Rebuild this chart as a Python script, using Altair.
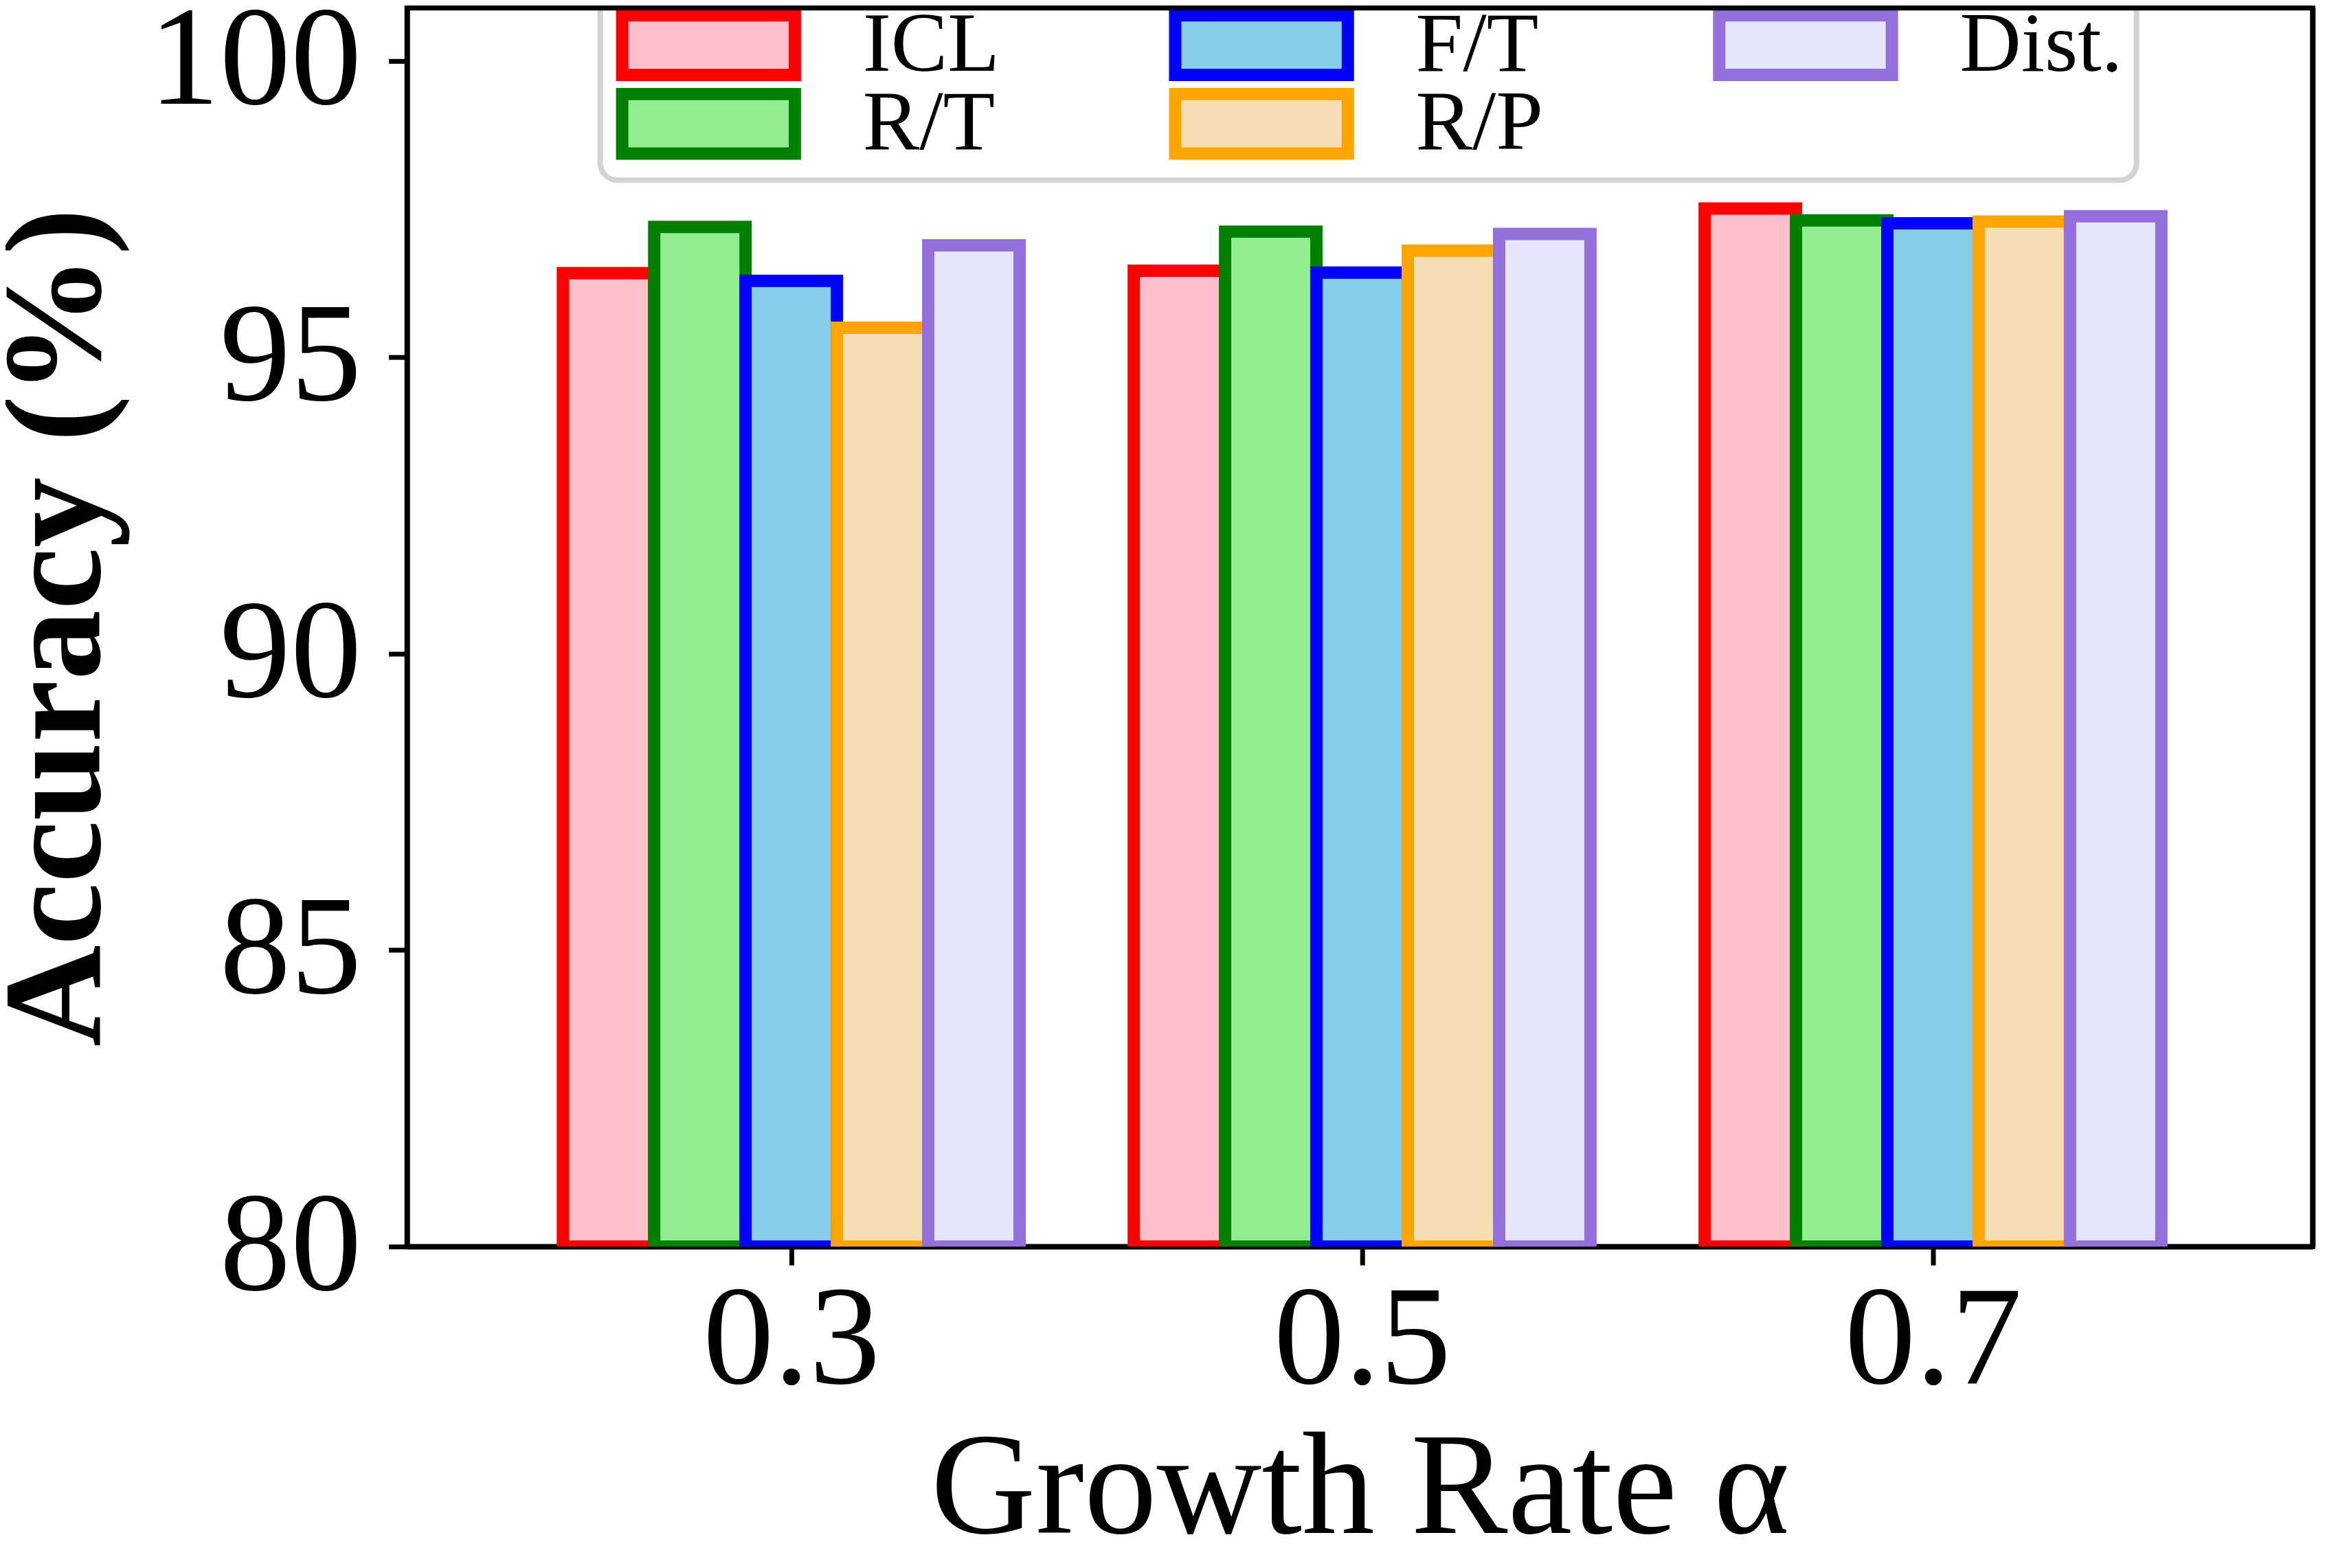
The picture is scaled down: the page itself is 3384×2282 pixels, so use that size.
import altair as alt
import pandas as pd

# ---- data ----
groups = ["0.3", "0.5", "0.7"]
methods = ["ICL", "R/T", "F/T", "R/P", "Dist."]
icl = [96.42, 96.46, 97.51]
rt = [97.20, 97.12, 97.31]
ft = [96.29, 96.43, 97.26]
rp = [95.50, 96.80, 97.29]
dist = [96.89, 97.08, 97.38]
fill_colors = ["#FFC0CB", "#90EE90", "#87CEEB", "#F5DEB3", "#E6E6FA"]
edge_colors = ["#FF0000", "#008000", "#0000FF", "#FFA500", "#9370DB"]
y_ticks = [80, 85, 90, 95, 100]

series = [icl, rt, ft, rp, dist]
rows = []
for si, (m, vals) in enumerate(zip(methods, series)):
    for gi, v in enumerate(vals):
        rows.append({"Method": m, "s": si, "g": gi, "Accuracy": v, "base": 80})
df = pd.DataFrame(rows)

BW = 0.16
FONT = "Liberation Serif"

label_expr = "[" + ",".join('"%s"' % g for g in groups) + "][datum.value]"

x_scale = alt.Scale(domain=[-0.673, 2.665], nice=False, zero=False)
y_scale = alt.Scale(domain=[80, 100.9], nice=False, zero=False)

legend = alt.Legend(
    title=None,
    orient="none",
    legendX=282,
    legendY=-18,
    columns=3,
    symbolType="M-2.52,-0.87L2.52,-0.87L2.52,0.87L-2.52,0.87Z",
    symbolSize=10000,
    symbolStrokeWidth=18,
    symbolOffset=76,
    symbolOpacity=1,
    clipHeight=105,
    labelFont=FONT,
    labelFontSize=124,
    labelColor="black",
    labelOffset=163,
    labelLimit=2000,
    columnPadding=244,
    rowPadding=-11,
    padding=20,
    strokeColor="#d3d3d3",
    fillColor="white",
    cornerRadius=25,
)

base = alt.Chart(df).transform_calculate(
    x0=f"datum.g + (datum.s - 2) * {BW} - {BW/2}",
    x1=f"datum.g + (datum.s - 2) * {BW} + {BW/2}",
)

bars = base.mark_bar(strokeWidth=18, clip=True, opacity=1).encode(
    x=alt.X(
        "x0:Q",
        scale=x_scale,
        axis=alt.Axis(
            values=[0, 1, 2],
            labelExpr=label_expr,
            title="Growth Rate α",
            titleFont=FONT,
            titleFontSize=212,
            titleFontWeight="normal",
            titleY=417,
            titleBaseline="alphabetic",
            labelBaseline="alphabetic",
            labelPadding=172,
            labelAngle=0,
        ),
    ),
    x2="x1:Q",
    y=alt.Y(
        "Accuracy:Q",
        scale=y_scale,
        axis=alt.Axis(
            values=y_ticks,
            title="Accuracy (%)",
            titleFont=FONT,
            titleFontSize=205,
            titleFontWeight="bold",
            titleX=-449,
            titleY=904,
            titleBaseline="alphabetic",
            titleAngle=270,
            labelPadding=40,
        ),
    ),
    y2="base:Q",
    fill=alt.Fill("Method:N", scale=alt.Scale(domain=methods, range=fill_colors), legend=legend),
    stroke=alt.Stroke("Method:N", scale=alt.Scale(domain=methods, range=edge_colors), legend=legend),
    order=alt.Order("s:Q"),
)

# top and right spines drawn as domain-only axes so they sit above the legend
frame = base.mark_point(opacity=0).encode(
    x=alt.X("x0:Q", scale=x_scale,
            axis=alt.Axis(orient="top", labels=False, ticks=False, title=None, zindex=2)),
    y=alt.Y("Accuracy:Q", scale=y_scale,
            axis=alt.Axis(orient="right", labels=False, ticks=False, title=None, zindex=2)),
)

chart = (
    alt.layer(bars, frame)
    .resolve_axis(x="independent", y="independent")
    .properties(
        width=2781,
        height=1808,
        autosize=alt.AutoSizeParams(type="none"),
        padding={"left": 586, "top": 0, "right": 10, "bottom": 458},
    )
    .configure_view(stroke="black", strokeWidth=7.5)
    .configure_legend(strokeWidth=8)
    .configure_axis(
        domainColor="black",
        domainWidth=7.5,
        tickColor="black",
        tickWidth=7,
        tickSize=27,
        grid=False,
        labelFont=FONT,
        labelFontSize=207,
        labelColor="black",
        labelLimit=2000,
        titleColor="black",
        titleLimit=4000,
        zindex=1,
    )
)

chart.save("out.html", embed_options={"renderer": "svg", "actions": False})
